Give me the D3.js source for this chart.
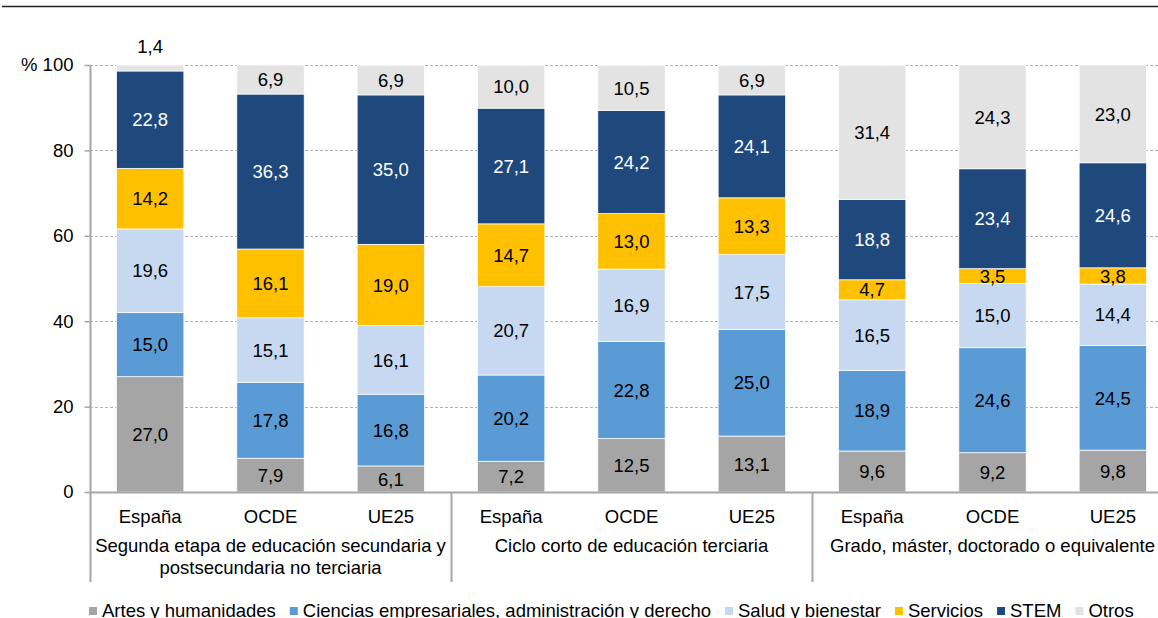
<!DOCTYPE html>
<html><head><meta charset="utf-8">
<script src="https://cdn.jsdelivr.net/npm/d3@7"></script>
<style>body{margin:0;background:#fff}svg{display:block;font-family:"Liberation Sans",Arial,sans-serif}</style>
</head><body><svg id="c" width="1158" height="618"></svg>
<script>
const groups = ["Segunda etapa de educación secundaria y|postsecundaria no terciaria","Ciclo corto de educación terciaria","Grado, máster, doctorado o equivalente"];
const categories = ["España","OCDE","UE25"];
const series = ["Artes y humanidades","Ciencias empresariales, administración y derecho","Salud y bienestar","Servicios","STEM","Otros"];
const colors = ["#a5a5a5","#5b9bd5","#c6d9f0","#ffc000","#1f497d","#e3e3e3"];
const labelColors = ["#000","#000","#000","#000","#fff","#000"];
// values per series, in order: g1 España, OCDE, UE25, g2 ..., g3 ...
const artes     = [27.0, 7.9, 6.1,  7.2, 12.5, 13.1,  9.6, 9.2, 9.8];
const ciencias  = [15.0,17.8,16.8, 20.2, 22.8, 25.0, 18.9,24.6,24.5];
const salud     = [19.6,15.1,16.1, 20.7, 16.9, 17.5, 16.5,15.0,14.4];
const servicios = [14.2,16.1,19.0, 14.7, 13.0, 13.3,  4.7, 3.5, 3.8];
const stem      = [22.8,36.3,35.0, 27.1, 24.2, 24.1, 18.8,23.4,24.6];
const otros     = [ 1.4, 6.9, 6.9, 10.0, 10.5,  6.9, 31.4,24.3,23.0];
const yTicks = [0,20,40,60,80,100];

const FS = 18.5;
const vals = [artes,ciencias,salud,servicios,stem,otros];
const svg = d3.select("#c");
const y = d3.scaleLinear().domain([0,100]).range([492,65]);
const gx = d3.scaleBand().domain(d3.range(groups.length)).range([90,1173]).padding(0);
const cx = d3.scaleBand().domain(categories).range([0,gx.bandwidth()]).paddingInner(0.44).paddingOuter(0.22);

// top rule
svg.append("line").attr("x1",2).attr("x2",1158).attr("y1",6.5).attr("y2",6.5).attr("stroke","#222").attr("stroke-width",1.5);

// gridlines
svg.append("g").selectAll("line").data(yTicks.filter(d=>d>0)).join("line")
  .attr("x1",90).attr("x2",1173).attr("y1",d=>Math.round(y(d))+0.5).attr("y2",d=>Math.round(y(d))+0.5)
  .attr("stroke","#b0b0b0").attr("stroke-dasharray","3,2").attr("stroke-width",1);

// bars
const stacked = [];
for (let g=0; g<groups.length; g++) for (let c=0; c<categories.length; c++) {
  const i = g*3+c; let acc=0;
  vals.forEach((s,k)=>{ stacked.push({g,c,k,v:s[i],y0:acc,y1:acc+s[i]}); acc+=s[i]; });
}
const bx = d => gx(d.g)+cx(categories[d.c]);
svg.append("g").selectAll("rect").data(stacked).join("rect")
  .attr("x",bx).attr("width",cx.bandwidth())
  .attr("y",d=>y(Math.min(d.y1,100))).attr("height",d=>y(d.y0)-y(Math.min(d.y1,100)))
  .attr("fill",d=>colors[d.k]).attr("stroke","#fff").attr("stroke-width",0.75);

// labels
svg.append("g").selectAll("text").data(stacked).join("text")
  .attr("x",d=>bx(d)+cx.bandwidth()/2)
  .attr("y",d=> d.v<3 ? y(Math.min(d.y1,100))-19 : (y(d.y0)+y(Math.min(d.y1,100)))/2)
  .attr("dy","0.36em").attr("text-anchor","middle").attr("font-size",FS)
  .attr("fill",d=> d.v<3 ? "#000" : labelColors[d.k])
  .text(d=>d3.format(".1f")(d.v).replace(".",","));

// y axis
const ya = svg.append("g").attr("transform","translate(90.5,0)")
  .call(d3.axisLeft(y).tickValues(yTicks).tickSize(6).tickPadding(11).tickFormat(d=>d===100?"% 100":d));
ya.select(".domain").remove();
ya.selectAll(".tick line").attr("stroke","#a6a6a6").attr("stroke-width",1.5);
ya.selectAll(".tick text").attr("font-size",FS).attr("font-family","Liberation Sans, Arial, sans-serif").attr("fill","#000");
svg.append("line").attr("x1",90.5).attr("x2",90.5).attr("y1",65).attr("y2",582).attr("stroke","#a6a6a6").attr("stroke-width",2);
// x axis
svg.append("line").attr("x1",90).attr("x2",1173).attr("y1",492.5).attr("y2",492.5).attr("stroke","#a6a6a6").attr("stroke-width",2);
// group separators
svg.append("g").selectAll("line").data(d3.range(1,groups.length)).join("line")
  .attr("x1",d=>gx(d)+0.5).attr("x2",d=>gx(d)+0.5).attr("y1",492).attr("y2",582)
  .attr("stroke","#a6a6a6").attr("stroke-width",2);

// category labels
const cl=[]; for (let g=0; g<groups.length; g++) categories.forEach(c=>cl.push({g,c}));
svg.append("g").selectAll("text").data(cl).join("text")
  .attr("x",d=>gx(d.g)+cx(d.c)+cx.bandwidth()/2).attr("y",523)
  .attr("text-anchor","middle").attr("font-size",FS).text(d=>d.c);
// group labels
groups.forEach((gname,g)=>{
  const lines = gname.split("|");
  lines.forEach((ln,j)=>{
    svg.append("text").attr("x",gx(g)+gx.bandwidth()/2).attr("y",552+j*22)
      .attr("text-anchor","middle").attr("font-size",FS).text(ln);
  });
});

// legend (sequential layout)
let lx = 89;
series.forEach((s,i)=>{
  const g = svg.append("g").attr("transform",`translate(${lx},0)`);
  g.append("rect").attr("x",0).attr("y",607).attr("width",8).attr("height",8).attr("fill",colors[i]);
  const t = g.append("text").attr("x",13).attr("y",617).attr("font-size",FS).text(s);
  lx += 13 + t.node().getComputedTextLength() + 14;
});
</script></body></html>
